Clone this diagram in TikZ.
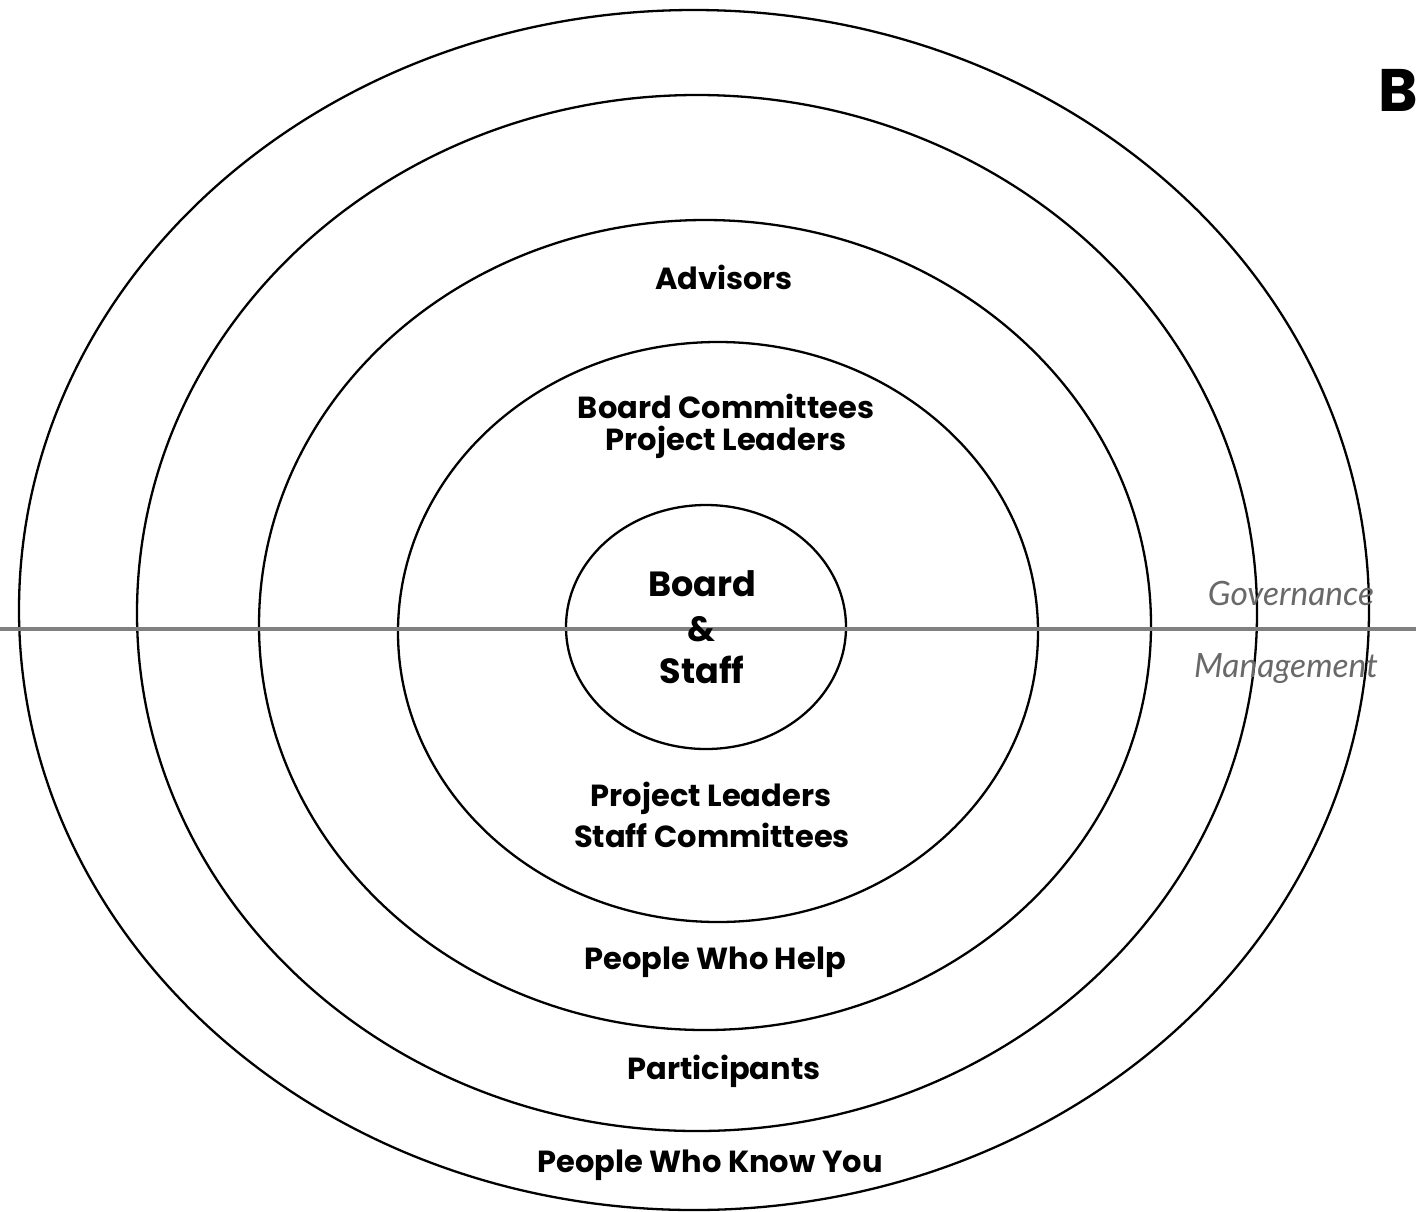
\documentclass[tikz,border=0pt]{standalone}
\usepackage{fontspec}
\setmainfont{Lato}[UprightFont=* Bold, BoldFont=* Black, ItalicFont=* Italic]
\newfontfamily\lblfont{Poppins}[UprightFont=* Bold]
\begin{document}
\begin{tikzpicture}[x=1pt,y=-1pt,
  ring/.style={draw=black,line width=2.3pt},
  lbl/.style={font=\lblfont\fontsize{30.5}{34}\selectfont,text=black,inner sep=0pt,align=center},
  big/.style={font=\lblfont\fontsize{35}{40}\selectfont},
  side/.style={font=\fontsize{33.5}{36}\selectfont\itshape,text={rgb,255:red,105;green,105;blue,105},inner sep=0pt}]
\useasboundingbox (0,0) rectangle (1416,1211);
\fill[white] (0,0) rectangle (1416,1211);
% rings
\draw[ring] (694,610) ellipse [x radius=675, y radius=600];
\draw[ring] (697,613) ellipse [x radius=560, y radius=518];
\draw[ring] (705,625) ellipse [x radius=446, y radius=405];
\draw[ring] (718,632) ellipse [x radius=320, y radius=290];
\draw[ring] (706,627) ellipse [x radius=140, y radius=122];
% divider
\coordinate (lineW) at (0,629);
\coordinate (lineE) at (1416,629);
\draw[line width=4pt,draw={rgb,255:red,128;green,128;blue,128}] (lineW) -- (lineE);
% labels
\node[lbl] (adv) at (724,277) {Advisors};
\node[lbl] (bc) at (726,406) {Board Committees};
\node[lbl] (pl1) at (726,442) {Project Leaders};
\node[lbl,big] (board) at (702,584) {Board};
\node[lbl,big] (amp) at (701,629) {\&};
\node[lbl,big] (staff) at (702,670) {Staff};
\node[lbl] (pl2) at (711,798) {Project Leaders};
\node[lbl] (sc) at (712,835) {Staff Committees};
\node[lbl] (pwh) at (715,962) {People Who Help};
\node[lbl] (part) at (724,1071) {Participants};
\node[lbl] (pwky) at (710,1165) {People Who Know You};
\node[side] (gov) at (1291,593) {Governance};
\node[side] (man) at (1286,669) {Management};
\node[lbl,font=\lblfont\fontsize{60}{66}\selectfont,anchor=west] (bigb) at (1378,90) {B};
\end{tikzpicture}
\end{document}
